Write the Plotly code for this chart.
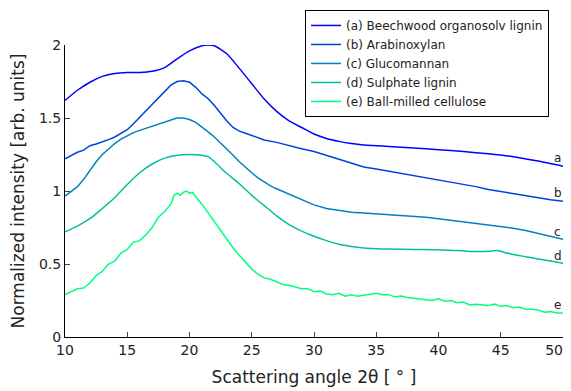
import plotly.graph_objects as go

names = ["(a) Beechwood organosolv lignin", "(b) Arabinoxylan", "(c) Glucomannan",
         "(d) Sulphate lignin", "(e) Ball-milled cellulose"]
colors = ["#0000ff", "#0040df", "#0080bf", "#00bf9f", "#00ff80"]
labels = ["a", "b", "c", "d", "e"]
label_x = 49.56
label_y = [1.224, 0.984, 0.721, 0.555, 0.219]

xa = [10, 11, 12, 13, 14, 15, 16, 17, 18, 19, 20, 21, 21.5, 22, 23, 24, 25, 26, 27, 28,
      29, 30, 31, 32, 33, 34, 35, 36, 38, 40, 42, 44, 46, 48, 50]
ya = [1.62, 1.69, 1.745, 1.785, 1.805, 1.812, 1.812, 1.82, 1.845, 1.905, 1.96, 1.995, 2.0,
      1.995, 1.94, 1.84, 1.735, 1.63, 1.545, 1.48, 1.435, 1.39, 1.36, 1.34, 1.325, 1.315,
      1.31, 1.305, 1.295, 1.283, 1.27, 1.255, 1.235, 1.205, 1.17]

xb = [10, 10.5, 11, 11.5, 12, 12.5, 13, 13.5, 14, 14.5, 15, 15.5, 16, 16.5, 17, 17.5, 18,
      18.5, 19, 19.5, 20, 20.5, 21, 21.5, 22, 22.5, 23, 23.5, 24, 24.5, 25, 26, 27, 28, 29,
      30, 31, 32, 33, 34, 35, 36, 37, 38, 39, 40, 41, 42, 43, 44, 45, 46, 47, 48, 49, 50]
yb = [1.22, 1.245, 1.265, 1.28, 1.31, 1.322, 1.335, 1.352, 1.37, 1.395, 1.42, 1.46, 1.505,
      1.55, 1.595, 1.64, 1.685, 1.725, 1.75, 1.755, 1.745, 1.71, 1.665, 1.632, 1.585, 1.53,
      1.48, 1.435, 1.41, 1.395, 1.38, 1.35, 1.333, 1.31, 1.29, 1.27, 1.245, 1.215, 1.19,
      1.165, 1.15, 1.135, 1.12, 1.105, 1.09, 1.075, 1.065, 1.045, 1.03, 1.01, 0.995, 0.98,
      0.965, 0.95, 0.94, 0.93]

xc = [10, 10.5, 11, 11.5, 12, 12.5, 13, 13.5, 14, 14.5, 15, 15.5, 16, 16.5, 17, 17.5, 18,
      18.5, 19, 19.5, 20, 20.5, 21, 21.5, 22, 22.5, 23, 23.5, 24, 24.5, 25, 25.5, 26, 26.5,
      27, 28, 29, 30, 31, 32, 33, 34, 35, 36, 37, 38, 39, 40, 41, 42, 43, 44, 45, 46, 47,
      48, 49, 50]
yc = [0.965, 0.995, 1.03, 1.08, 1.14, 1.2, 1.25, 1.29, 1.325, 1.355, 1.38, 1.4, 1.415,
      1.43, 1.44, 1.455, 1.47, 1.49, 1.5, 1.5, 1.49, 1.47, 1.44, 1.405, 1.37, 1.33, 1.285,
      1.245, 1.2, 1.16, 1.125, 1.09, 1.06, 1.035, 1.015, 0.98, 0.945, 0.905, 0.88, 0.865,
      0.855, 0.85, 0.845, 0.84, 0.835, 0.83, 0.82, 0.81, 0.8, 0.79, 0.78, 0.77, 0.76, 0.745,
      0.73, 0.71, 0.69, 0.67]

xd = [10, 11, 12, 13, 14, 15, 16, 17, 18, 19, 20, 21, 21.5, 22, 23, 24, 25, 26, 27, 28, 29,
      30, 31, 32, 33, 34, 35, 36, 38, 40, 42, 43, 44, 44.7, 45.5, 46, 47, 48, 49, 50]
yd = [0.72, 0.76, 0.81, 0.88, 0.955, 1.045, 1.125, 1.185, 1.225, 1.245, 1.25, 1.245, 1.235,
      1.2, 1.12, 1.05, 0.97, 0.9, 0.83, 0.77, 0.725, 0.69, 0.66, 0.635, 0.62, 0.61, 0.605,
      0.602, 0.6, 0.598, 0.59, 0.585, 0.588, 0.592, 0.575, 0.565, 0.55, 0.535, 0.52, 0.505]

xe = [10, 10.5, 11, 11.5, 12, 12.5, 13, 13.5, 14, 14.5, 15, 15.5, 16, 16.5, 17, 17.5, 18,
      18.5, 18.75, 19, 19.25, 19.5, 19.75, 20, 20.25, 20.5, 21, 21.5, 22, 22.5, 23, 23.5,
      24, 24.5, 25, 25.5, 26, 26.5, 27, 27.5, 28, 28.5, 29, 29.5, 30, 30.5, 31, 31.5, 32,
      32.5, 33, 33.5, 34, 34.5, 35, 35.5, 36, 36.5, 37, 37.5, 38, 38.5, 39, 39.5, 40, 40.5,
      41, 41.5, 42, 42.5, 43, 43.5, 44, 44.5, 45, 45.5, 46, 46.5, 47, 47.5, 48, 48.5, 49,
      49.5, 50]
ye = [0.29, 0.31, 0.33, 0.335, 0.37, 0.42, 0.45, 0.5, 0.52, 0.575, 0.6, 0.65, 0.66, 0.7,
      0.75, 0.82, 0.86, 0.91, 0.97, 0.985, 0.97, 0.99, 1.0, 0.985, 0.99, 0.96, 0.91, 0.85,
      0.79, 0.73, 0.665, 0.61, 0.56, 0.51, 0.465, 0.43, 0.405, 0.395, 0.375, 0.36, 0.355,
      0.34, 0.33, 0.33, 0.31, 0.315, 0.295, 0.29, 0.3, 0.28, 0.29, 0.28, 0.285, 0.29, 0.3,
      0.29, 0.29, 0.275, 0.28, 0.27, 0.265, 0.26, 0.255, 0.25, 0.262, 0.245, 0.25, 0.235,
      0.24, 0.22, 0.225, 0.22, 0.215, 0.225, 0.21, 0.215, 0.2, 0.205, 0.19, 0.19, 0.185,
      0.17, 0.175, 0.165, 0.165]

xs = [xa, xb, xc, xd, xe]
ys = [ya, yb, yc, yd, ye]
shapes = ["spline", "linear", "linear", "spline", "linear"]

x_ticks = [10, 15, 20, 25, 30, 35, 40, 45, 50]
# last label padded with no-break spaces so it sits left of the edge, as in the reference
x_ticktext = ["10", "15", "20", "25", "30", "35", "40", "45", "50\u00a0\u00a0\u00a0\u00a0"]
y_ticks = [0, 0.5, 1, 1.5, 2]
y_ticktext = ["0", "0.5", "1", "1.5", "2"]

fig = go.Figure()
for x, y, n, c, s in zip(xs, ys, names, colors, shapes):
    fig.add_trace(go.Scatter(x=x, y=y, mode="lines", name=n,
                             line=dict(color=c, width=1.5, shape=s, smoothing=0.6)))

for lab, ly in zip(labels, label_y):
    fig.add_annotation(x=label_x, y=ly, text=lab, showarrow=False, xref="x", yref="y",
                       font=dict(size=12, color="#222"))

# The page body has an 8px default margin, so the figure is 8px smaller
# and its left/top margins 8px narrower to land the axes where they belong.
fig.update_layout(
    width=563, height=383,
    margin=dict(l=57, r=8, t=37, b=54, autoexpand=False),
    paper_bgcolor="white", plot_bgcolor="white",
    font=dict(family="DejaVu Sans", size=14, color="#222"),
    showlegend=True,
    legend=dict(x=0.482, y=1.12, xanchor="left", yanchor="top",
                bgcolor="white", bordercolor="black", borderwidth=1,
                font=dict(size=12), tracegroupgap=0, itemwidth=30),
    xaxis=dict(range=[10, 50], tickvals=x_ticks, ticktext=x_ticktext, ticks="inside",
               ticklen=5, showline=True, linecolor="black", linewidth=1, showgrid=False,
               zeroline=False, mirror=False, ticklabeloverflow="allow", automargin=False,
               title=dict(text="Scattering angle 2θ [ ° ]", standoff=14)),
    yaxis=dict(range=[0, 2], tickvals=y_ticks, ticktext=y_ticktext, ticks="inside",
               ticklen=5, showline=True, linecolor="black", linewidth=1, automargin=False,
               showgrid=False, zeroline=False, mirror=False,
               title=dict(text="Normalized intensity [arb. units]", standoff=10)),
)

fig.write_html("out.html")
